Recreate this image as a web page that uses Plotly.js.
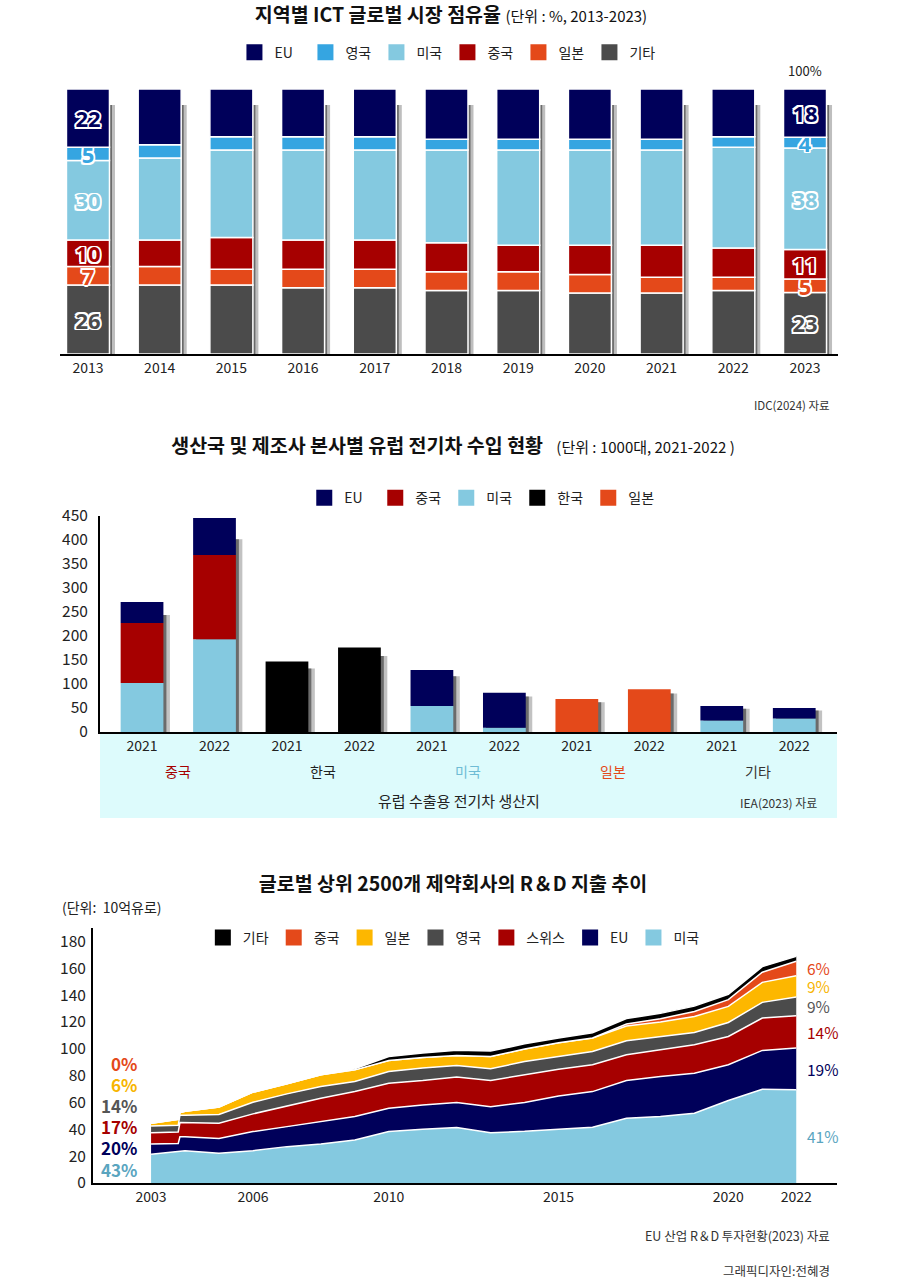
<!DOCTYPE html>
<html><head><meta charset="utf-8">
<script src="https://cdn.plot.ly/plotly-3.0.1.min.js"></script>
<style>
html,body{margin:0;padding:0;background:#fff;}
.ch{position:absolute;left:0;width:904px;}
#c1{top:0;height:420px;}
#c2{top:420px;height:410px;}
#c3{top:830px;height:451px;}
</style></head><body>
<div id="c1" class="ch"></div><div id="c2" class="ch"></div><div id="c3" class="ch"></div>
<script>
// ===== Chart 1 data: 지역별 ICT 글로벌 시장 점유율 (%) =====
const ictYears = [2013,2014,2015,2016,2017,2018,2019,2020,2021,2022,2023];
const ictNames = ['기타','일본','중국','미국','영국','EU']; // bottom -> top
const ictEtc   = [26,26,26,25,25,24,24,23,23,24,23];
const ictJapan = [ 7, 7, 6, 7, 7, 7, 7, 7, 6, 5, 5];
const ictChina = [10,10,12,11,11,11,10,11,12,11,11];
const ictUS    = [30,31,33,34,34,35,36,36,36,38,38];
const ictUK    = [ 5, 5, 5, 5, 5, 4, 4, 4, 4, 4, 4];
const ictEU    = [22,21,18,18,18,19,19,19,19,18,18];
const ictLabeledYears = [2013, 2023];
const ictLegendOrder = ['EU','영국','미국','중국','일본','기타'];

// ===== Chart 2 data: 유럽 전기차 수입 (1000대) =====
const evGroups = ['중국','한국','미국','일본','기타'];
const evYears  = ['2021','2022'];
const evUS    = [102,193,null,null,54, 9,null,null,24,28];
const evChina = [125,176,null,null,null,null,null,null,null,null];
const evEU    = [ 44, 77,null,null,75,73,null,null,30,22];
const evKorea = [null,null,147,176,null,null,null,null,null,null];
const evJapan = [null,null,null,null,null,null,69,89,null,null];
const evLegendOrder = ['EU','중국','미국','한국','일본'];

// ===== Chart 3 data: 제약회사 R&D 지출 (10억유로) =====
const rdYears  = [2003,2003.8,2003.85,2004,2005,2006,2007,2008,2009,2010,2011,2012,2013,2014,2015,2016,2017,2018,2019,2020,2021,2022];
const rdUS     = [21.5,23.5,24,24,22.1,24.1,27.1,29.1,32.1,38.3,40.1,41.3,37.5,38.5,40.1,41.5,48.3,49.5,52,61.5,69.9,69.4];
const rdEU     = [7.5,6,10.5,10.5,11,14.2,14.9,16.7,17.4,17.4,18.1,18.7,19.4,21.4,24.8,26.6,28.1,29.8,29.8,26.6,28.9,31.1];
const rdSwiss  = [8.5,8.5,10.5,10.5,11.5,13.2,15.5,17.4,18.6,18.7,18.2,19,19.5,20.7,19.9,20,19.1,20,21.2,21.1,24.1,24.1];
const rdUK     = [5,5,5.5,5.5,6.5,8.7,8.9,8.7,7.5,8.7,9.2,8.5,8.7,9.9,9.5,9.9,10.5,9.9,9.2,10.4,11.7,14];
const rdJapan  = [2,4.5,2,3,5.5,7.5,7.5,8.7,8.7,8.2,7.9,7.5,9.2,9.3,10.2,10,11,10.7,11.9,12,14.9,15.9];
const rdChina  = [0,0,0,0,0,0,0,0,0,0,0,0,0,0,0,0,1.5,2.5,3.7,5,7.5,10.7];
const rdEtc    = [0,0,0,0,0,0,0,0,0.8,3,3.3,4,4,3.9,3.5,4,4,4,4,4,4.2,3.7];
const rdTicks  = [2003,2006,2010,2015,2020,2022];
const rdShareFirst = ['43%','20%','17%','14%','6%','0%']; // 미국,EU,스위스,영국,일본,중국
const rdShareLast  = ['41%','19%','14%','9%','9%','6%'];
const rdLegendOrder = ['기타','중국','일본','영국','스위스','EU','미국'];

// ===== styles =====
const F = '"Noto Sans CJK KR", "Noto Sans", sans-serif';
const NAVY='#00005a', UKBLUE='#35a5e1', USBLUE='#84c9e0', RED='#a60000', ORANGE='#e4491a', GRAY='#4b4b4b', YELLOW='#fdb700', BLACK='#000';
const cfg = {staticPlot:true, displayModeBar:false};
const OUT = '-1.6px -1.6px 0 #fff, 1.6px -1.6px 0 #fff, -1.6px 1.6px 0 #fff, 1.6px 1.6px 0 #fff, 0 -1.8px 0 #fff, 0 1.8px 0 #fff, -1.8px 0 0 #fff, 1.8px 0 0 #fff';
const TSIZE = 19.5, USIZE = 15;
function legendDummy(name, color){
  return {type:'scatter', mode:'markers', x:[null], y:[null], name:name, showlegend:true,
          marker:{symbol:'square', size:16, color:color}};
}

// ===== Chart 1 =====
(function(){
  const data = {'기타':ictEtc,'일본':ictJapan,'중국':ictChina,'미국':ictUS,'영국':ictUK,'EU':ictEU};
  const colors = {'기타':GRAY,'일본':ORANGE,'중국':RED,'미국':USBLUE,'영국':UKBLUE,'EU':NAVY};
  const totals = ictYears.map((_,i)=>ictNames.reduce((s,n)=>s+data[n][i],0));
  const pctTot = totals.map(t=>t/t*100);
  const W = 0.6, unit = 1/71.7;
  const traces = [];
  traces.push({type:'bar', x:ictYears, y:pctTot.map(t=>t*0.94), width:W, offset:-W/2+5.5*unit,
               marker:{color:'rgba(110,110,110,0.45)', line:{width:0}}, showlegend:false});
  traces.push({type:'bar', x:ictYears, y:pctTot.map(t=>t*0.94), width:W, offset:-W/2+2.5*unit,
               marker:{color:'rgba(70,70,70,0.7)', line:{width:0}}, showlegend:false});
  let cum = ictYears.map(()=>0);
  ictNames.forEach(n=>{
    const pct = data[n].map((v,i)=>v/totals[i]*100);
    traces.push({type:'bar', x:ictYears, y:pct, base:cum.slice(), width:W, showlegend:false,
      marker:{color:colors[n], line:{color:'#fff', width:1.5}},
      text: ictYears.map((yr,i)=> ictLabeledYears.includes(yr) ? String(data[n][i]) : ''),
      textposition:'inside', insidetextanchor:'middle', textangle:0, constraintext:'none',
      textfont:{family:'"Noto Sans", sans-serif', size:22, weight:700, color:colors[n], shadow:OUT}});
    cum = cum.map((c,i)=>c+pct[i]);
  });
  ictLegendOrder.forEach(n=>traces.push(legendDummy(n, colors[n])));
  const last = ictYears[ictYears.length-1];
  const layout = {
    width:904, height:420, margin:{l:60, r:66, t:88.5, b:66},
    paper_bgcolor:'#fff', plot_bgcolor:'#fff', barmode:'overlay',
    font:{family:F, color:'#222'},
    title:{text:'지역별 ICT 글로벌 시장 점유율 <span style="font-size:'+USIZE+'px;font-weight:normal">(단위 : %, 2013-2023)</span>',
           font:{family:F, size:TSIZE, weight:700, color:'#111'}, x:451/904, xanchor:'center', xref:'container',
           y:1-15/420, yanchor:'middle', yref:'container'},
    xaxis:{range:[2012.61, 2023.46], tickvals:ictYears, ticktext:ictYears.map(String), showgrid:false, zeroline:false,
           showline:true, linecolor:'#000', linewidth:2, ticks:'', tickfont:{family:F, size:14, color:'#222'}},
    yaxis:{range:[0,100], visible:false, fixedrange:true},
    legend:{orientation:'h', x:0.498, xanchor:'center', y:1.1375, yanchor:'middle', font:{family:F, size:14, color:'#222'},
            entrywidth:26, entrywidthmode:'pixels', bgcolor:'rgba(0,0,0,0)', traceorder:'normal'},
    annotations:[
      {x:last, y:100, xref:'x', yref:'y', text:'100%', showarrow:false, yanchor:'bottom', yshift:7,
       font:{family:F, size:13, color:'#222'}},
      {x:1, y:-0.192, xref:'paper', yref:'paper', text:'IDC(2024) 자료', showarrow:false, xanchor:'right', xshift:-6,
       yanchor:'middle', font:{family:F, size:11.5, color:'#333'}}
    ]
  };
  Plotly.newPlot('c1', traces, layout, cfg);
})();

// ===== Chart 2 =====
(function(){
  const order = ['미국','중국','EU','한국','일본'];
  const data = {'미국':evUS,'중국':evChina,'EU':evEU,'한국':evKorea,'일본':evJapan};
  const colors = {'미국':USBLUE,'중국':RED,'EU':NAVY,'한국':BLACK,'일본':ORANGE};
  const xs = evGroups.flatMap((g,gi)=>evYears.map((_,yi)=>gi*evYears.length+yi));
  const ticktext = evGroups.flatMap(()=>evYears);
  const totals = xs.map((_,i)=>order.reduce((s,n)=>s+(data[n][i]||0),0));
  const W = 0.59, unit = 1/72.5;
  const traces = [];
  traces.push({type:'bar', x:xs, y:totals.map(t=>t*0.9), width:W, offset:-W/2+6.5*unit,
               marker:{color:'rgba(120,120,120,0.45)', line:{width:0}}, showlegend:false});
  traces.push({type:'bar', x:xs, y:totals.map(t=>t*0.9), width:W, offset:-W/2+3*unit,
               marker:{color:'rgba(70,70,70,0.7)', line:{width:0}}, showlegend:false});
  let cum = xs.map(()=>0);
  order.forEach(n=>{
    traces.push({type:'bar', x:xs, y:data[n], base:cum.slice(), width:W, showlegend:false,
                 marker:{color:colors[n], line:{width:0}}});
    cum = cum.map((c,i)=>c+(data[n][i]||0));
  });
  evLegendOrder.forEach(n=>traces.push(legendDummy(n, colors[n])));
  const groupColors = {'중국':RED,'한국':'#222','미국':'#6fbcd5','일본':ORANGE,'기타':'#333'};
  const anns = evGroups.map((g,gi)=>({x:gi*evYears.length+(evYears.length-1)/2, y:0, xref:'x', yref:'paper',
      text:g, showarrow:false, yanchor:'middle', yshift:-39, font:{family:F, size:14, color:groupColors[g]}}));
  anns.push({x:0.487, y:0, xref:'paper', yref:'paper', text:'유럽 수출용 전기차 생산지', showarrow:false,
             yanchor:'middle', yshift:-68, font:{family:F, size:15, color:'#222'}});
  anns.push({x:0.9756, y:0, xref:'paper', yref:'paper', text:'IEA(2023) 자료', showarrow:false, xanchor:'right',
             yanchor:'middle', yshift:-70, font:{family:F, size:12, color:'#333'}});
  const layout = {
    width:904, height:410, margin:{l:100, r:67, t:96, b:98.3},
    paper_bgcolor:'#fff', plot_bgcolor:'#fff', barmode:'overlay',
    font:{family:F, color:'#222'},
    title:{text:'생산국 및 제조사 본사별 유럽 전기차 수입 현황\u00a0\u00a0 <span style="font-size:'+USIZE+'px;font-weight:normal">(단위 : 1000대, 2021-2022 )</span>',
           font:{family:F, size:TSIZE, weight:700, color:'#111'}, x:453/904, xanchor:'center', xref:'container',
           y:1-26/410, yanchor:'middle', yref:'container'},
    xaxis:{range:[-0.58, 9.59], tickvals:xs, ticktext:ticktext, showgrid:false, zeroline:false,
           showline:true, linecolor:'#000', linewidth:2, ticks:'', tickfont:{family:F, size:14, color:'#222'}},
    yaxis:{range:[0,450], dtick:50, showgrid:false, zeroline:false, showline:true, linecolor:'#000', linewidth:2,
           ticks:'', ticklabelstandoff:7, tickfont:{family:F, size:15.5, color:'#222'}},
    legend:{orientation:'h', x:0.518, xanchor:'center', y:1.083, yanchor:'middle', font:{family:F, size:14, color:'#222'},
            entrywidth:26, entrywidthmode:'pixels', bgcolor:'rgba(0,0,0,0)', traceorder:'normal'},
    shapes:[{type:'rect', xref:'paper', yref:'paper', x0:0, x1:1, ysizemode:'pixel', yanchor:0, y0:-86, y1:0,
             fillcolor:'#ddfbfc', line:{width:0}, layer:'below'}],
    annotations:anns
  };
  Plotly.newPlot('c2', traces, layout, cfg);
})();

// ===== Chart 3 =====
(function(){
  const order = ['미국','EU','스위스','영국','일본','중국','기타'];
  const data = {'미국':rdUS,'EU':rdEU,'스위스':rdSwiss,'영국':rdUK,'일본':rdJapan,'중국':rdChina,'기타':rdEtc};
  const colors = {'미국':USBLUE,'EU':NAVY,'스위스':RED,'영국':GRAY,'일본':YELLOW,'중국':ORANGE,'기타':BLACK};
  const labelColors = {'미국':'#5aa5bf','EU':NAVY,'스위스':RED,'영국':'#555','일본':'#f7b500','중국':ORANGE};
  const traces = order.map(n=>({type:'scatter', mode:'lines', x:rdYears, y:data[n], stackgroup:'rd', name:n,
      line:{color:'#fff', width:1.5}, fillcolor:colors[n], showlegend:false}));
  rdLegendOrder.forEach(n=>traces.push(legendDummy(n, colors[n])));
  const first = rdYears[0], lastI = rdYears.length-1, last = rdYears[lastI];
  const anns = [];
  let cumLast = 0;
  order.slice(0,6).forEach((n,k)=>{
    const v = data[n][lastI];
    anns.push({x:last, y:cumLast+v/2, xref:'x', yref:'y', text:rdShareLast[k], showarrow:false, xanchor:'left', xshift:9,
               yanchor:'middle', font:{family:F, size:15.5, color:labelColors[n]}});
    cumLast += v;
    anns.push({x:first, y:10.4+15.7*k, xref:'x', yref:'y', text:rdShareFirst[k], showarrow:false, xanchor:'right', xshift:-12,
               yanchor:'middle', font:{family:F, size:17, weight:700, color:labelColors[n]}});
  });
  anns.push({x:-0.0437, y:1.082, xref:'paper', yref:'paper', text:'(단위:  10억유로)', showarrow:false, xanchor:'left',
             yanchor:'middle', font:{family:F, size:14, color:'#222'}});
  anns.push({x:0.9933, y:-0.2078, xref:'paper', yref:'paper', text:'EU 산업 R＆D 투자현황(2023) 자료', showarrow:false,
             xanchor:'right', yanchor:'middle', font:{family:F, size:12.5, color:'#333'}});
  anns.push({x:0.9933, y:-0.345, xref:'paper', yref:'paper', text:'그래픽디자인:전혜경', showarrow:false,
             xanchor:'right', yanchor:'middle', font:{family:F, size:12.5, color:'#333'}});
  const layout = {
    width:904, height:451, margin:{l:92.5, r:67, t:98, b:98},
    paper_bgcolor:'#fff', plot_bgcolor:'#fff',
    font:{family:F, color:'#222'},
    title:{text:'글로벌 상위 2500개 제약회사의 R＆D 지출 추이',
           font:{family:F, size:TSIZE, weight:700, color:'#111'}, x:453/904, xanchor:'center', xref:'container',
           y:1-54/451, yanchor:'middle', yref:'container'},
    xaxis:{range:[2001.29, 2023.2], tickvals:rdTicks, ticktext:rdTicks.map(String), showgrid:false, zeroline:false,
           showline:true, linecolor:'#000', linewidth:2, ticks:'', tickfont:{family:F, size:14, color:'#222'}},
    yaxis:{range:[0,190], tickvals:[0,20,40,60,80,100,120,140,160,180], showgrid:false, zeroline:false, showline:true,
           linecolor:'#000', linewidth:2, ticks:'', ticklabelstandoff:2, tickfont:{family:F, size:15.5, color:'#222'}},
    legend:{orientation:'h', x:0.485, xanchor:'center', y:0.961, yanchor:'middle', font:{family:F, size:14, color:'#222'},
            bgcolor:'rgba(0,0,0,0)', traceorder:'normal'},
    annotations:anns
  };
  Plotly.newPlot('c3', traces, layout, cfg);
})();
</script>
</body></html>
